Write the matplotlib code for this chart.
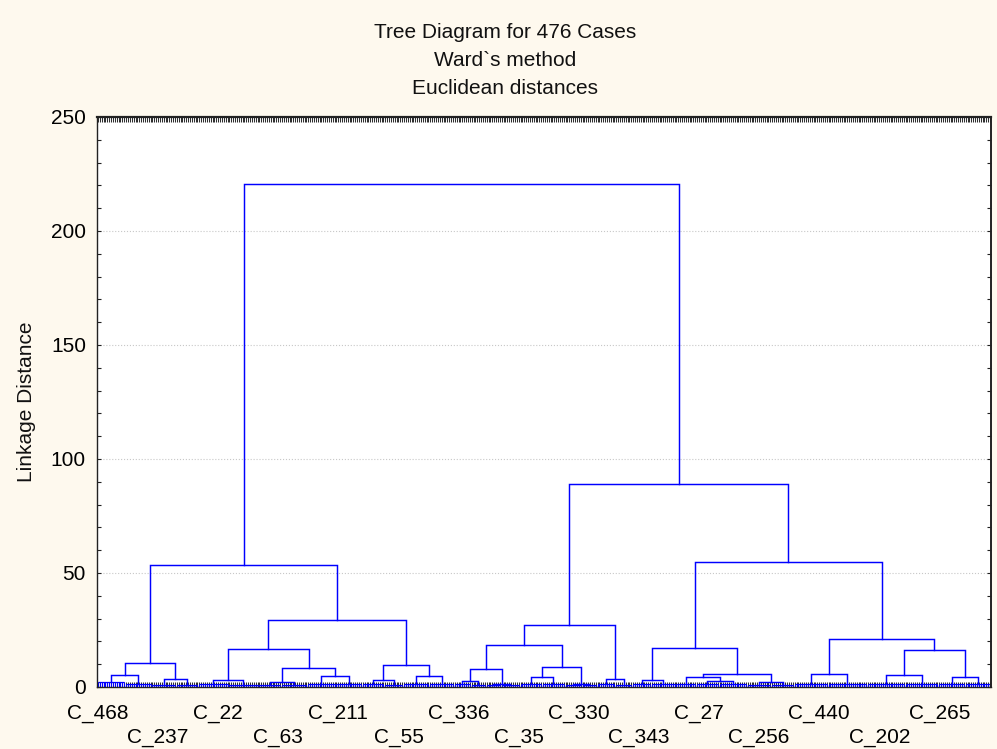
"""
Tree diagram (Ward's method, Euclidean distances) for 476 cases.
The bottom-level clusters are drawn as small combs, everything above
them as ordinary dendrogram links.
"""

import numpy as np
import matplotlib
matplotlib.use("Agg")
import matplotlib.pyplot as plt
from matplotlib.ticker import MultipleLocator, FixedLocator

plt.rcParams["font.family"] = ["Liberation Sans", "DejaVu Sans"]

# ---------------------------------------------------------------------------
# Data
# ---------------------------------------------------------------------------
N_CASES = 476

# bottom-level clusters, left to right: number of cases and linkage height
GROUP_SIZES = [15, 14, 13, 12, 16, 16, 12, 14, 15, 14, 12, 10, 14, 13, 9, 8,
               8, 10, 12, 12, 9, 8, 10, 9, 10, 13, 11, 12, 15, 13, 12, 18,
               21, 20, 18, 14, 14]
GROUP_HEIGHTS = [2.0, 1.5, 1.0, 1.0, 1.2, 1.0, 1.0, 1.0, 1.5, 1.5, 1.2, 1.0,
                 1.5, 1.5, 1.2, 1.0, 0.8, 0.8, 1.5, 1.5, 0.8, 0.8, 1.5, 1.0,
                 1.2, 1.2, 1.5, 1.2, 1.2, 1.0, 1.0, 1.5, 1.5, 1.5, 1.5, 1.5,
                 1.5]

# merges: (left node, right node, linkage distance)
# nodes 0..36 are the groups above, node 37 + i is the i-th merge below
MERGES = [
    (0, 1, 5.3), (2, 3, 3.5), (37, 38, 10.5),
    (4, 5, 3.0), (6, 7, 2.2), (8, 9, 4.8), (41, 42, 8.3), (40, 43, 16.7),
    (10, 11, 3.0), (12, 13, 5.0), (45, 46, 9.6), (44, 47, 29.4),
    (39, 48, 53.5),
    (14, 15, 2.7), (16, 17, 1.5), (50, 51, 8.0),
    (18, 19, 4.4), (20, 21, 1.5), (53, 54, 8.7), (52, 55, 18.4),
    (22, 23, 3.5), (56, 57, 27.2),
    (24, 25, 3.0), (27, 28, 2.6), (26, 60, 4.4), (29, 30, 2.3),
    (61, 62, 5.7), (59, 63, 17.1),
    (31, 32, 5.7), (33, 34, 5.2), (35, 36, 4.4), (66, 67, 16.2),
    (65, 68, 21.0), (64, 69, 54.8),
    (58, 70, 89.0),
    (49, 71, 220.5),
]

CASE_LABELS = ["C_468", "C_237", "C_22", "C_63", "C_211", "C_55", "C_336",
               "C_35", "C_330", "C_343", "C_27", "C_256", "C_440", "C_202",
               "C_265"]
LABEL_STEP = 32   # one label every 32 cases, starting with the first

TITLE_LINES = ["Tree Diagram for 476 Cases", "Ward`s method",
               "Euclidean distances"]

BG = "#FEF9EE"
LINK = "#0000FF"


def main():
    fig = plt.figure(figsize=(9.97, 7.49), dpi=100, facecolor=BG)
    ax = fig.add_axes([97 / 997, 1 - 687 / 749, 894 / 997, 570 / 749])
    ax.set_facecolor("white")

    # node positions / heights
    xs, hs = [], []
    start = 0
    for n, h in zip(GROUP_SIZES, GROUP_HEIGHTS):
        leaves = np.arange(start + 1, start + n + 1)
        ax.vlines(leaves, 0, h, color=LINK, lw=0.8)
        ax.hlines(h, leaves[0], leaves[-1], color=LINK, lw=0.9)
        xs.append(leaves.mean())
        hs.append(h)
        start += n

    for a, b, h in MERGES:
        ax.plot([xs[a], xs[a], xs[b], xs[b]], [hs[a], h, h, hs[b]],
                color=LINK, lw=1.05, solid_joinstyle="miter")
        xs.append((xs[a] + xs[b]) / 2)
        hs.append(h)

    ax.set_xlim(0.5, N_CASES + 0.5)
    ax.set_ylim(0, 250)

    # x axis: a tick at every case, labels every 32 cases on two rows
    label_pos = [1 + LABEL_STEP * i for i in range(len(CASE_LABELS))]
    labels = [lab if i % 2 == 0 else "\n" + lab
              for i, lab in enumerate(CASE_LABELS)]
    ax.xaxis.set_major_locator(FixedLocator(label_pos))
    ax.set_xticklabels(labels)
    for t in ax.get_xticklabels():
        t.set_linespacing(1.32)
    ax.xaxis.set_minor_locator(FixedLocator(np.arange(1, N_CASES + 1)))
    ax.tick_params(axis="x", which="both", direction="in", top=True,
                   length=3.5, width=0.75, color="#2e2e2e", labelsize=15,
                   pad=12)

    ax.yaxis.set_major_locator(MultipleLocator(50))
    ax.yaxis.set_minor_locator(MultipleLocator(10))
    ax.tick_params(axis="y", which="both", direction="in", right=True,
                   length=3, width=0.8, color="#222222", labelsize=15,
                   pad=8)
    ax.grid(axis="y", which="major", linestyle=":", color="#c8c8c8", lw=0.8)
    ax.set_axisbelow(True)

    for side in ["top", "bottom", "left", "right"]:
        ax.spines[side].set_color("#222222")
        ax.spines[side].set_linewidth(1.0)
    ax.spines["top"].set_linewidth(1.6)
    ax.spines["right"].set_linewidth(1.4)

    for i, line in enumerate(TITLE_LINES):
        fig.text(505 / 997, 1 - (32 + 28 * i) / 749, line, ha="center",
                 va="center", fontsize=15, color="#111111")
    fig.text(26 / 997, 1 - 402 / 749, "Linkage Distance", rotation=90,
             ha="center", va="center", fontsize=15, color="#111111")

    fig.savefig("out.png", dpi=100, facecolor=BG)


if __name__ == "__main__":
    main()
